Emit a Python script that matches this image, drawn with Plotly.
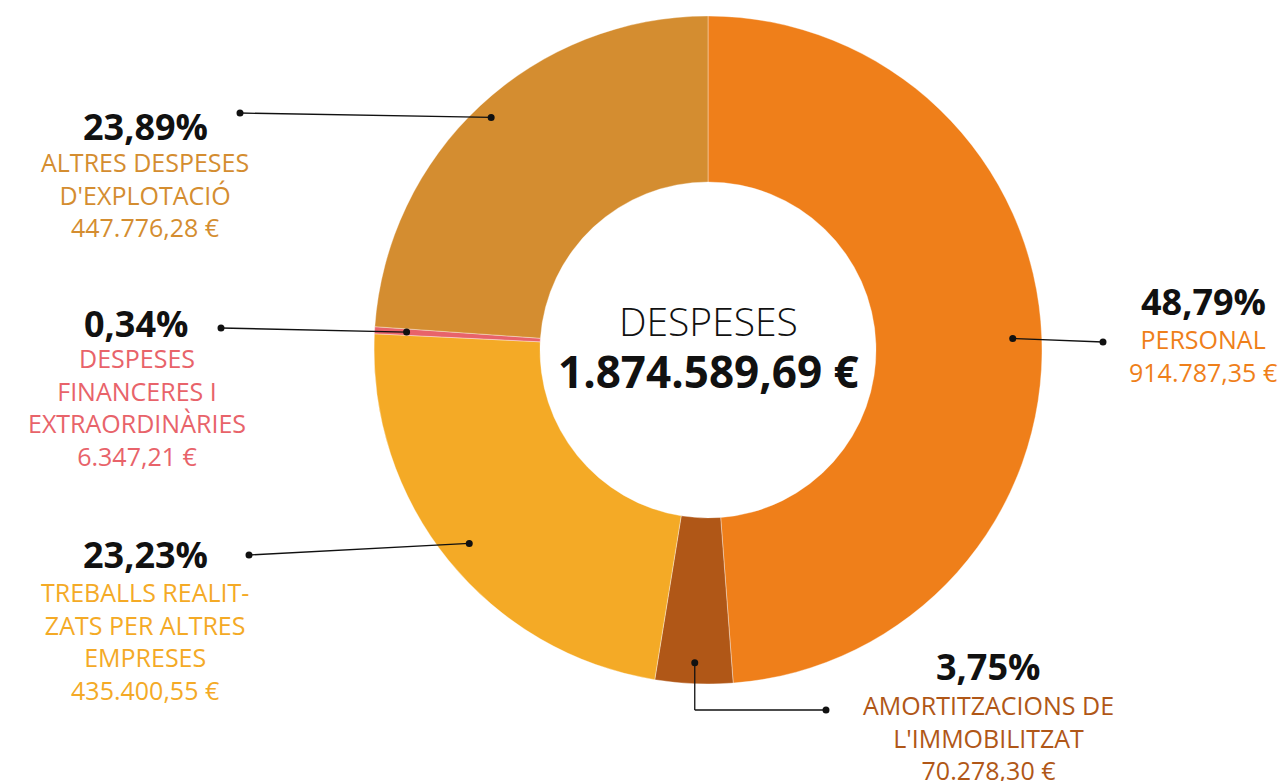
import math
import plotly.graph_objects as go

# ---------------- data ----------------
categories = ["PERSONAL", "AMORTITZACIONS DE L'IMMOBILITZAT",
              "TREBALLS REALITZATS PER ALTRES EMPRESES",
              "DESPESES FINANCERES I EXTRAORDINÀRIES",
              "ALTRES DESPESES D'EXPLOTACIÓ"]
values = [914787.35, 70278.30, 435400.55, 6347.21, 447776.28]
pct_labels = ["48,79%", "3,75%", "23,23%", "0,34%", "23,89%"]
amount_labels = ["914.787,35 €", "70.278,30 €", "435.400,55 €", "6.347,21 €", "447.776,28 €"]
name_lines = [["PERSONAL"],
              ["AMORTITZACIONS DE", "L'IMMOBILITZAT"],
              ["TREBALLS REALIT-", "ZATS PER ALTRES", "EMPRESES"],
              ["DESPESES", "FINANCERES I", "EXTRAORDINÀRIES"],
              ["ALTRES DESPESES", "D'EXPLOTACIÓ"]]
colors = ["#EF7F1A", "#B05717", "#F4AA26", "#E8636A", "#D48D30"]
center_title = "DESPESES"
center_total = "1.874.589,69 €"

# ---------------- layout constants ----------------
W, H = 1285, 781
CX, CY, R = 708, 350, 334
HOLE = 168 / 334
FONT = "Open Sans"

# label layout (pixels): percent centre, first text line centre, label dot
pct_pos = [(1203, 301), (988, 666), (145, 554), (136, 324), (145, 127)]
text_pos = [(1203, 340), (988, 706), (145, 593), (137, 359), (145, 163)]
label_dot = [(1103, 342), (826, 710), (249, 555), (221, 328), (240, 113)]
anchor_r = [0.913, 0.937, 0.92, 0.904, 0.952]


def px(x):
    return x / W


def py(y):
    return 1 - y / H


fig = go.Figure()
fig.add_trace(go.Pie(
    labels=categories, values=values, sort=False, direction="clockwise",
    rotation=0, hole=HOLE, textinfo="none", hoverinfo="label+value+percent",
    marker=dict(colors=colors, line=dict(color="rgba(255,255,255,0.6)", width=0.6)),
    domain=dict(x=[px(CX - R), px(CX + R)], y=[py(CY + R), py(CY - R)]),
    showlegend=False,
))

shapes = []
annotations = []
total = sum(values)
cum = 0.0
for i, v in enumerate(values):
    mid = (cum + v / 2) / total
    cum += v
    ang = 2 * math.pi * mid
    ax = CX + anchor_r[i] * R * math.sin(ang)
    ay = CY - anchor_r[i] * R * math.cos(ang)
    lx, ly = label_dot[i]
    line = dict(color="#111111", width=1.3)
    if i == 1:
        shapes.append(dict(type="line", xref="paper", yref="paper",
                           x0=px(ax), y0=py(ay), x1=px(ax), y1=py(ly), line=line, layer="above"))
        shapes.append(dict(type="line", xref="paper", yref="paper",
                           x0=px(ax), y0=py(ly), x1=px(lx), y1=py(ly), line=line, layer="above"))
    else:
        shapes.append(dict(type="line", xref="paper", yref="paper",
                           x0=px(ax), y0=py(ay), x1=px(lx), y1=py(ly), line=line, layer="above"))
    for (dx, dy) in [(ax, ay), (lx, ly)]:
        shapes.append(dict(type="circle", xref="paper", yref="paper",
                           xsizemode="pixel", ysizemode="pixel",
                           xanchor=px(dx), yanchor=py(dy), x0=-3.5, x1=3.5, y0=-3.5, y1=3.5,
                           fillcolor="#111111", line=dict(width=0), layer="above"))
    annotations.append(dict(x=px(pct_pos[i][0]), y=py(pct_pos[i][1]), xref="paper", yref="paper",
                            text=f"<b>{pct_labels[i]}</b>", showarrow=False,
                            xanchor="center", yanchor="middle",
                            font=dict(family=FONT, size=36, color="#111111")))
    lines = name_lines[i] + [amount_labels[i]]
    annotations.append(dict(x=px(text_pos[i][0]), y=py(text_pos[i][1] - 20), xref="paper", yref="paper",
                            text="<br>".join(lines), showarrow=False, align="center",
                            xanchor="center", yanchor="top",
                            font=dict(family=FONT, size=25, color=colors[i], weight=400)))

annotations.append(dict(x=px(CX), y=py(321), xref="paper", yref="paper", text=center_title,
                        showarrow=False, xanchor="center", yanchor="middle",
                        font=dict(family=FONT, size=39, color="#111111", weight=300)))
annotations.append(dict(x=px(CX), y=py(371), xref="paper", yref="paper", text=f"<b>{center_total}</b>",
                        showarrow=False, xanchor="center", yanchor="middle",
                        font=dict(family=FONT, size=44, color="#111111")))

fig.update_layout(
    width=W, height=H, margin=dict(l=0, r=0, t=0, b=0),
    paper_bgcolor="white", plot_bgcolor="white",
    shapes=shapes, annotations=annotations,
    font=dict(family=FONT),
)

fig.write_html("out.html", config={"displayModeBar": False},
               post_script="document.body.style.margin='0';")
